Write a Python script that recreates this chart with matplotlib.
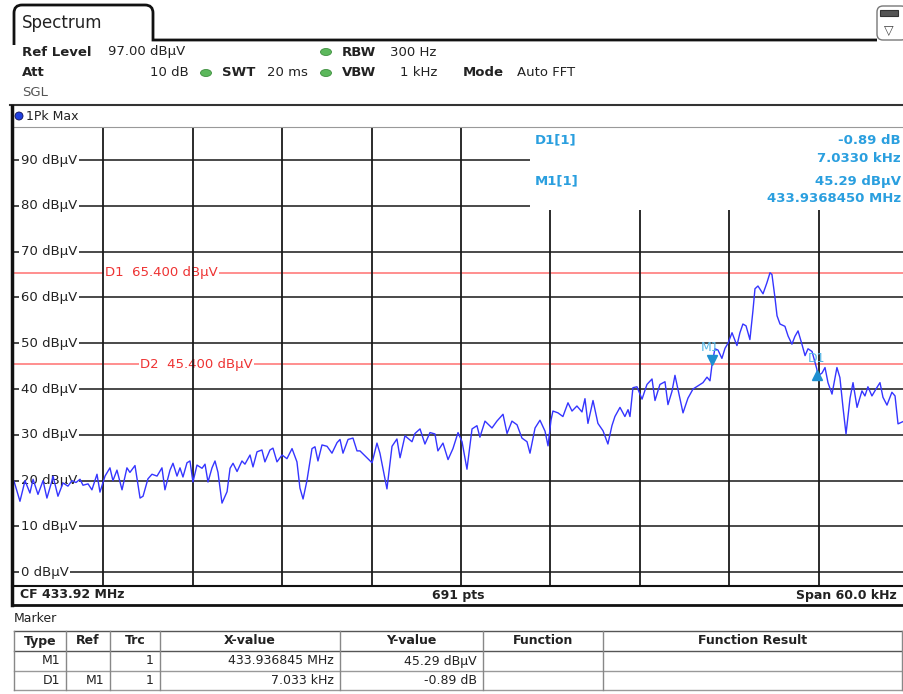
import numpy as np
import matplotlib
matplotlib.use('Agg')
import matplotlib.pyplot as plt
import matplotlib.transforms as mtransforms
from matplotlib.lines import Line2D
from matplotlib.patches import Rectangle, Ellipse, FancyBboxPatch, PathPatch
from matplotlib.path import Path

W, H = 904, 694

# trace: offset from CF 433.92 MHz in kHz, level in dBuV
freq_khz = [-30.0, -29.6, -29.26, -28.93, -28.72, -28.39, -28.05, -27.79, -27.45, -27.38,
            -27.05, -26.71, -26.38, -26.11, -25.84, -25.57, -25.37, -25.03, -24.77, -24.43,
            -24.23, -23.89, -23.56, -23.36, -23.09, -22.75, -22.42, -22.22, -21.88, -21.54,
            -21.34, -21.01, -20.74, -20.40, -20.07, -19.87, -19.53, -19.33, -19.06, -18.86,
            -18.66, -18.39, -18.19, -17.99, -17.72, -17.38, -17.18, -16.98, -16.71, -16.51,
            -16.31, -16.04, -15.70, -15.50, -15.30, -15.03, -14.70, -14.50, -14.16, -13.96,
            -13.69, -13.36, -13.16, -12.82, -12.62, -12.35, -12.01, -11.68, -11.34, -11.01,
            -10.81, -10.60, -10.34, -10.00, -9.80, -9.60, -9.33, -8.99, -8.66, -8.32,
            -8.12, -7.92, -7.58, -7.25, -6.98, -6.78, -6.31, -5.97, -5.64, -5.44,
            -4.97, -4.63, -4.30, -4.09, -3.76, -3.29, -3.09, -2.75, -2.42, -2.08,
            -1.75, -1.55, -1.21, -0.87, -0.54, -0.20, 0.07, 0.40, 0.74, 1.07,
            1.27, 1.61, 2.08, 2.41, 2.82, 3.09, 3.42, 3.76, 4.09, 4.43,
            4.63, 4.97, 5.30, 5.64, 5.84, 6.04, 6.17, 6.51, 6.84, 7.18,
            7.45, 7.78, 8.12, 8.32, 8.52, 8.86, 9.19, 9.53, 9.86, 10.13,
            10.33, 10.67, 11.00, 11.21, 11.34, 11.54, 11.81, 12.15, 12.48, 12.82,
            13.02, 13.35, 13.69, 13.89, 14.16, 14.36, 14.56, 14.90, 15.23, 15.57,
            15.90, 16.24, 16.51, 16.71, 16.845, 17.04, 17.25, 17.51, 17.72, 17.92,
            18.19, 18.52, 18.72, 18.92, 19.13, 19.39, 19.59, 19.73, 19.93, 20.27,
            20.53, 20.74, 20.87, 21.07, 21.21, 21.41, 21.74, 21.95, 22.21, 22.41,
            22.62, 22.88, 23.09, 23.29, 23.56, 23.878, 23.96, 24.23, 24.43, 24.63,
            24.90, 25.23, 25.43, 25.64, 25.84, 26.11, 26.31, 26.58, 26.91, 27.11,
            27.31, 27.58, 27.85, 28.12, 28.32, 28.59, 28.92, 29.13, 29.33, 29.73,
            30.0]
level_dbuv = [19.9, 15.5, 20.0, 17.3, 20.3, 17.0, 20.0, 16.2, 20.0, 21.0,
              16.6, 19.5, 18.8, 20.0, 19.6, 20.3, 19.0, 19.3, 18.0, 21.4,
              17.5, 21.0, 22.8, 20.0, 22.3, 18.0, 22.8, 21.8, 23.3, 16.2,
              16.6, 20.4, 21.4, 21.0, 22.8, 18.0, 22.3, 23.8, 21.0, 22.8,
              20.8, 23.9, 24.3, 19.7, 23.4, 22.7, 23.6, 19.7, 22.8, 24.3,
              21.8, 15.1, 17.6, 22.7, 23.8, 22.0, 24.3, 23.6, 25.6, 23.0,
              26.3, 26.7, 24.1, 26.7, 27.1, 24.1, 25.6, 24.8, 27.0, 24.1,
              18.4, 16.0, 20.0, 27.0, 27.4, 24.3, 27.8, 27.5, 26.0, 28.3,
              29.0, 26.0, 29.0, 29.3, 26.5, 26.5, 25.0, 23.9, 28.2, 26.0,
              18.2, 27.5, 29.1, 25.0, 29.8, 28.5, 30.3, 31.3, 28.0, 30.5,
              30.2, 26.5, 28.2, 24.6, 27.0, 30.5, 28.5, 22.5, 31.3, 32.0,
              29.5, 33.0, 31.5, 33.0, 34.5, 30.3, 33.0, 32.2, 29.3, 28.5,
              26.0, 31.5, 33.2, 30.8, 27.6, 33.2, 35.2, 34.8, 34.0, 37.0,
              35.2, 36.3, 35.0, 37.9, 32.5, 37.5, 32.5, 30.9, 28.0, 32.0,
              34.0, 36.0, 34.0, 35.5, 34.0, 40.3, 40.5, 37.8, 41.0, 42.2,
              37.5, 41.0, 41.6, 36.6, 39.5, 43.0, 40.0, 34.8, 38.0, 40.0,
              40.7, 41.4, 42.6, 41.8, 45.29, 48.8, 48.5, 46.7, 48.9, 50.0,
              52.3, 49.5, 52.3, 54.2, 53.8, 50.8, 57.0, 61.9, 62.5, 60.8,
              63.2, 65.4, 65.0, 60.0, 56.0, 54.2, 53.7, 51.6, 49.8, 51.5,
              52.7, 49.8, 47.3, 48.8, 48.2, 44.4, 42.9, 43.5, 44.7, 41.4,
              38.9, 44.7, 42.5, 35.9, 30.2, 38.0, 41.4, 36.0, 39.6, 38.5,
              40.5, 38.5, 40.0, 41.4, 38.2, 36.5, 39.3, 38.5, 32.4, 33.0,
              33.5]

grid_levels = [0, 10, 20, 30, 40, 50, 60, 70, 80, 90]
grid_freqs = [-24, -18, -12, -6, 0, 6, 12, 18, 24]
y_labels = ['%d dB\u00b5V' % v for v in grid_levels]

d1_line = 65.4
d2_line = 45.4
m1_freq, m1_level = 16.845, 45.29
d1_freq, d1_level = 23.878, 44.40

info_names = ['D1[1]', '', 'M1[1]', '']
info_values = ['-0.89 dB', '7.0330 kHz', '45.29 dB\u00b5V', '433.9368450 MHz']

tbl_header = ['Type', 'Ref', 'Trc', 'X-value', 'Y-value', 'Function', 'Function Result']
tbl_rows = [['M1', '', '1', '433.936845 MHz', '45.29 dB\u00b5V', '', ''],
            ['D1', 'M1', '1', '7.033 kHz', '-0.89 dB', '', '']]

blue = '#3535ff'
red = '#ff7070'
mk_blue = '#2a9fdf'
ink = '#222222'

plt.rcParams['font.family'] = ['DejaVu Sans']

fig = plt.figure(figsize=(9.04, 6.94), dpi=100)
fig.patch.set_facecolor('white')
pix = mtransforms.IdentityTransform()


def fx(x):
    return x / W


def fy(y):
    return 1 - y / H


def ftext(x, y, s, **kw):
    kw.setdefault('color', ink)
    kw.setdefault('fontsize', 9.5)
    fig.text(fx(x), fy(y), s, va='center', **kw)


def fline(xs, ys, **kw):
    fig.add_artist(Line2D([fx(x) for x in xs], [fy(y) for y in ys],
                          transform=fig.transFigure, **kw))


# ---- tab and header
verts = [(14, H - 45), (14, H - 13), (14, H - 5), (22, H - 5), (145, H - 5),
         (153, H - 5), (153, H - 13), (153, H - 40), (877, H - 40)]
codes = [Path.MOVETO, Path.LINETO, Path.CURVE3, Path.CURVE3, Path.LINETO,
         Path.CURVE3, Path.CURVE3, Path.LINETO, Path.LINETO]
fig.add_artist(PathPatch(Path(verts, codes), facecolor='none', edgecolor='#111111',
                         lw=2, transform=pix))
ftext(22, 23, 'Spectrum', fontsize=12)
fig.add_artist(FancyBboxPatch((877, H - 40), 30, 34, boxstyle='round,pad=0,rounding_size=6',
                              facecolor='white', edgecolor='#777777', lw=1, transform=pix))
fig.add_artist(Rectangle((880, H - 16), 18, 6, facecolor='#555555', edgecolor='#333333',
                         lw=0.8, transform=pix))
ftext(889, 31, '\u25bd', fontsize=9, ha='center', color='#444444')

ftext(22, 52, 'Ref Level', fontweight='bold')
ftext(108, 52, '97.00 dB\u00b5V')
ftext(22, 73, 'Att', fontweight='bold')
ftext(150, 73, '10 dB')
ftext(222, 73, 'SWT', fontweight='bold')
ftext(267, 73, '20 ms')
ftext(342, 52, 'RBW', fontweight='bold')
ftext(390, 52, '300 Hz')
ftext(342, 73, 'VBW', fontweight='bold')
ftext(400, 73, '1 kHz')
ftext(463, 73, 'Mode', fontweight='bold')
ftext(517, 73, 'Auto FFT')
ftext(22, 93, 'SGL', color='#555555')
for (x, y) in [(326, 52), (206, 73), (326, 73)]:
    fig.add_artist(Ellipse((x, H - y), 11, 7, facecolor='#5cb85c', edgecolor='#3e8e3e',
                           lw=0.6, transform=pix))

fline([10, 904], [105, 105], color='#333333', lw=1.5)
fig.add_artist(Ellipse((19, H - 116), 8, 8, facecolor='#1f3fe0', edgecolor='#111155',
                       lw=0.6, transform=pix))
ftext(26, 116, '1Pk Max', fontsize=9)

# ---- diagram
ax = fig.add_axes([fx(14), fy(586), 894 / W, 458 / H])
ax.set_xlim(-30, 30)
ax.set_ylim(-3, 97)
ax.axis('off')

for v in grid_levels:
    ax.axhline(v, color='#3a3a3a', lw=1.3, zorder=1)
for f in grid_freqs:
    ax.axvline(f, color='#1a1a1a', lw=1.3, zorder=4)
ax.axhline(d1_line, color=red, lw=1.1, zorder=2)
ax.axhline(d2_line, color=red, lw=1.1, zorder=2)

ytr = ax.get_yaxis_transform()
for v, lab in zip(grid_levels, y_labels):
    ax.text(0.0075, v, lab, transform=ytr, va='center', ha='left', fontsize=9.5, color=ink,
            bbox=dict(facecolor='white', edgecolor='none', pad=1.2), zorder=3)
ax.text(0.102, d1_line, 'D1  %.3f dB\u00b5V' % d1_line, transform=ytr, va='center',
        ha='left', fontsize=9.5, color='#ee3333',
        bbox=dict(facecolor='white', edgecolor='none', pad=0.8), zorder=3)
ax.text(0.141, d2_line, 'D2  %.3f dB\u00b5V' % d2_line, transform=ytr, va='center',
        ha='left', fontsize=9.5, color='#ee3333',
        bbox=dict(facecolor='white', edgecolor='none', pad=0.8), zorder=3)

ax.plot(freq_khz, level_dbuv, color=blue, lw=1.0, zorder=5)

up = mtransforms.offset_copy(ax.transData, fig=fig, y=5, units='dots')
down = mtransforms.offset_copy(ax.transData, fig=fig, y=-6, units='dots')
ax.plot([m1_freq], [m1_level], marker='v', ms=7, color='#1e8fd0', transform=up, zorder=7)
ax.plot([d1_freq], [d1_level], marker='^', ms=7, color='#1e8fd0', transform=down, zorder=7)
lab_up = mtransforms.offset_copy(ax.transData, fig=fig, x=-2, y=17, units='dots')
lab_d1 = mtransforms.offset_copy(ax.transData, fig=fig, x=0, y=10, units='dots')
ax.text(m1_freq, m1_level, 'M1', transform=lab_up, ha='center', va='center',
        fontsize=9, color='#55b5e5', zorder=7)
ax.text(d1_freq, d1_level, 'D1', transform=lab_d1, ha='center', va='center',
        fontsize=9, color='#55b5e5', zorder=7)

ax.add_patch(Rectangle((0.577, 0.821), 0.45, 0.2, transform=ax.transAxes,
                       facecolor='white', edgecolor='none', zorder=6, clip_on=False))
for i, (n, val) in enumerate(zip(info_names, info_values)):
    y = [140, 158, 181, 199][i]
    if n:
        ftext(535, y, n, fontweight='bold', color=mk_blue, zorder=8)
    ftext(901, y, val, ha='right', fontweight='bold', color=mk_blue, zorder=8)

# frame
fline([14, 904], [127, 127], color='#999999', lw=0.8)
fline([12.5, 12.5], [106, 605], color='#111111', lw=2.5)
fline([12, 904], [586, 586], color='#111111', lw=1.5)
fline([12, 904], [605, 605], color='#111111', lw=2)
ftext(20, 595, 'CF 433.92 MHz', fontweight='bold', fontsize=9)
ftext(458, 595, '691 pts', fontweight='bold', fontsize=9, ha='center')
ftext(897, 595, 'Span 60.0 kHz', fontweight='bold', fontsize=9, ha='right')

# ---- marker table
ftext(14, 619, 'Marker', fontsize=9)
col_edges = [14, 66, 110, 160, 340, 483, 603, 902]
row_y = [641, 661, 681]
row_lines = [631, 651, 671, 690]
for y in row_lines:
    fline([14, 902], [y, y], color='#999999' if y > 651 else '#555555', lw=1)
for x in col_edges:
    fline([x, x], [631, 690], color='#888888', lw=1)
for i, h in enumerate(tbl_header):
    ftext((col_edges[i] + col_edges[i + 1]) / 2, row_y[0], h, ha='center',
          fontweight='bold', fontsize=9)
for r, row in enumerate(tbl_rows):
    for i, s in enumerate(row):
        if s:
            ftext(col_edges[i + 1] - 6, row_y[r + 1], s, ha='right', fontsize=9)

fig.savefig('out.png', dpi=100, facecolor='white')
